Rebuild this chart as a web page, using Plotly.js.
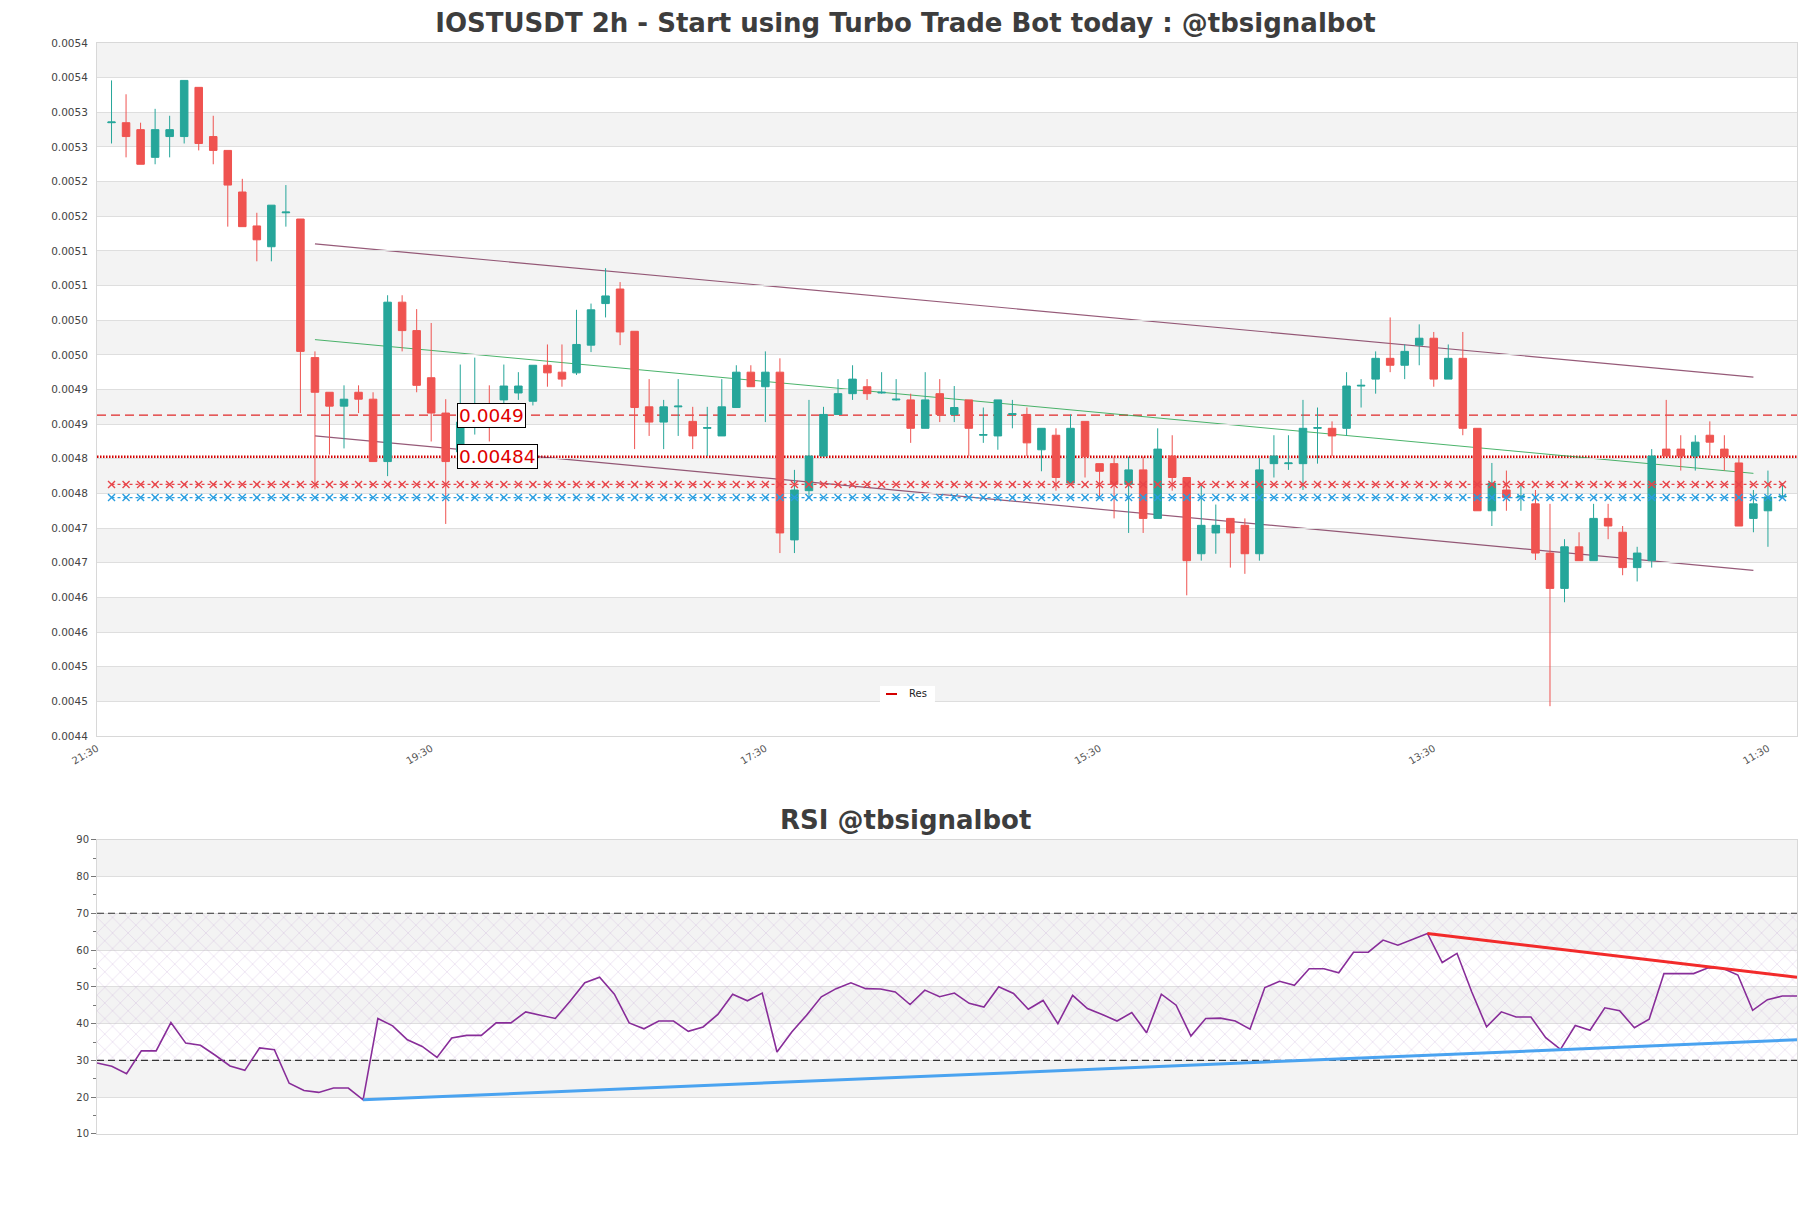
<!DOCTYPE html>
<html><head><meta charset="utf-8">
<script src="https://cdn.plot.ly/plotly-3.0.1.min.js"></script>
<style>html,body{margin:0;padding:0;background:#fff}#chart{width:1811px;height:1208px}</style>
</head><body><div id="chart"></div>
<script>
// ---- price candles (2h) ----
const openP = [0.005322,0.005322,0.005312,0.005272,0.005302,0.005302,0.005373,0.005302,0.005282,0.005222,
 0.005173,0.005143,0.005192,0.005183,0.004983,0.004933,0.004913,0.004933,0.004923,0.004833,
 0.005063,0.005022,0.004954,0.004903,0.004847,0.004893,0.004912,0.004922,0.004932,0.004920,
 0.004972,0.004962,0.004961,0.005001,0.005061,0.005082,0.005021,0.004912,0.004890,0.004912,
 0.004891,0.004881,0.004870,0.004911,0.004962,0.004941,0.004962,0.004720,0.004791,0.004841,
 0.004901,0.004931,0.004941,0.004932,0.004922,0.004922,0.004881,0.004931,0.004901,0.004922,
 0.004871,0.004870,0.004901,0.004901,0.004850,0.004871,0.004802,0.004891,0.004830,0.004830,
 0.004800,0.004821,0.004751,0.004841,0.004810,0.004700,0.004730,0.004751,0.004741,0.004700,
 0.004830,0.004830,0.004830,0.004881,0.004881,0.004881,0.004942,0.004952,0.004982,0.004972,
 0.005001,0.005011,0.004952,0.004982,0.004881,0.004762,0.004792,0.004782,0.004772,0.004701,
 0.004650,0.004710,0.004690,0.004751,0.004731,0.004680,0.004690,0.004851,0.004851,0.004841,
 0.004871,0.004851,0.004831,0.004751,0.004762,0.004782];
const highP = [0.005383,0.005363,0.005322,0.005342,0.005332,0.005383,0.005373,0.005332,0.005282,0.005241,
 0.005192,0.005203,0.005232,0.005183,0.004992,0.004933,0.004943,0.004943,0.004933,0.005073,
 0.005073,0.005053,0.005033,0.004923,0.004973,0.004983,0.004943,0.004973,0.004962,0.004972,
 0.005002,0.005002,0.005052,0.005061,0.005112,0.005092,0.005021,0.004952,0.004922,0.004952,
 0.004912,0.004912,0.004952,0.004972,0.004972,0.004992,0.004982,0.004821,0.004922,0.004912,
 0.004952,0.004972,0.004952,0.004962,0.004952,0.004931,0.004962,0.004952,0.004942,0.004922,
 0.004911,0.004922,0.004922,0.004911,0.004881,0.004881,0.004901,0.004891,0.004830,0.004840,
 0.004840,0.004840,0.004881,0.004871,0.004810,0.004800,0.004771,0.004751,0.004751,0.004838,
 0.004871,0.004871,0.004922,0.004911,0.004891,0.004962,0.004952,0.004992,0.005041,0.005002,
 0.005031,0.005020,0.005002,0.005020,0.004881,0.004831,0.004820,0.004802,0.004792,0.004772,
 0.004721,0.004731,0.004772,0.004772,0.004740,0.004710,0.004851,0.004922,0.004871,0.004871,
 0.004891,0.004871,0.004840,0.004792,0.004820,0.004802];
const lowP = [0.005292,0.005272,0.005262,0.005262,0.005272,0.005292,0.005282,0.005262,0.005172,0.005172,
 0.005122,0.005122,0.005172,0.004903,0.004793,0.004843,0.004852,0.004903,0.004833,0.004812,
 0.004992,0.004933,0.004862,0.004743,0.004823,0.004872,0.004862,0.004912,0.004922,0.004914,
 0.004941,0.004941,0.004958,0.004991,0.005041,0.005001,0.004851,0.004870,0.004851,0.004870,
 0.004851,0.004841,0.004870,0.004911,0.004941,0.004890,0.004701,0.004701,0.004782,0.004841,
 0.004901,0.004922,0.004922,0.004931,0.004921,0.004860,0.004881,0.004890,0.004890,0.004841,
 0.004860,0.004850,0.004881,0.004841,0.004819,0.004791,0.004802,0.004810,0.004780,0.004751,
 0.004730,0.004730,0.004751,0.004791,0.004640,0.004690,0.004700,0.004680,0.004671,0.004690,
 0.004810,0.004821,0.004792,0.004830,0.004841,0.004870,0.004911,0.004931,0.004962,0.004952,
 0.004972,0.004941,0.004952,0.004871,0.004762,0.004740,0.004762,0.004762,0.004691,0.004480,
 0.004630,0.004690,0.004690,0.004721,0.004669,0.004660,0.004680,0.004841,0.004820,0.004820,
 0.004841,0.004820,0.004740,0.004731,0.004710,0.004782];
const closeP = [0.005323,0.005302,0.005262,0.005312,0.005312,0.005383,0.005292,0.005282,0.005232,0.005172,
 0.005153,0.005203,0.005193,0.004992,0.004933,0.004913,0.004923,0.004923,0.004833,0.005063,
 0.005022,0.004943,0.004903,0.004833,0.004890,0.004898,0.004900,0.004942,0.004942,0.004972,
 0.004961,0.004952,0.005002,0.005052,0.005072,0.005020,0.004911,0.004890,0.004912,0.004913,
 0.004870,0.004882,0.004912,0.004962,0.004941,0.004962,0.004730,0.004792,0.004841,0.004901,
 0.004931,0.004952,0.004931,0.004933,0.004923,0.004881,0.004922,0.004901,0.004911,0.004881,
 0.004872,0.004922,0.004902,0.004860,0.004881,0.004810,0.004881,0.004840,0.004819,0.004800,
 0.004821,0.004751,0.004851,0.004810,0.004690,0.004741,0.004741,0.004730,0.004700,0.004821,
 0.004841,0.004831,0.004881,0.004882,0.004870,0.004942,0.004943,0.004982,0.004972,0.004992,
 0.005011,0.004952,0.004982,0.004881,0.004762,0.004802,0.004781,0.004783,0.004701,0.004650,
 0.004710,0.004690,0.004751,0.004740,0.004680,0.004701,0.004841,0.004841,0.004841,0.004861,
 0.004861,0.004840,0.004740,0.004772,0.004782,0.004783];

// ---- RSI ----
const rsiVals = [29.3,28.4,26.4,32.6,32.6,40.3,34.7,34.1,31.4,28.5,27.3,33.4,32.9,23.8,21.8,21.3,22.5,22.5,19.3,41.4,
 39.4,35.6,33.8,30.8,36.1,36.8,36.8,40.2,40.2,43.2,42.3,41.4,46.1,51.1,52.6,48.0,40.2,38.6,40.7,40.7,
 37.9,39.1,42.5,48.0,46.2,48.3,32.3,37.7,42.3,47.3,49.5,51.1,49.5,49.4,48.6,45.2,49.1,47.3,48.3,45.5,
 44.5,50.0,48.2,43.9,46.3,40.0,47.7,44.1,42.5,40.7,43.0,37.5,48.0,45.0,36.6,41.4,41.5,40.7,38.5,49.8,
 51.5,50.4,54.9,54.9,53.8,59.4,59.4,62.7,61.3,63.0,64.5,56.6,59.1,48.6,39.1,43.2,41.8,41.8,36.2,33.0,
 39.5,38.2,44.3,43.5,38.9,41.2,53.6,53.6,53.6,55.2,55.0,53.2,43.6,46.5,47.5,47.5];

// ---- axes ticks ----
const xTickPos = [-1, 22, 45, 68, 91, 114];
const xTickLabels = ['21:30','19:30','17:30','15:30','13:30','11:30'];
const yTickVals = [0.004437,0.004487,0.004537,0.004587,0.004637,0.004687,0.004737,0.004787,0.004837,0.004887,
 0.004937,0.004987,0.005037,0.005087,0.005137,0.005187,0.005237,0.005287,0.005337,0.005387,0.005437];
const yTickLabels = ['0.0044','0.0045','0.0045','0.0046','0.0046','0.0047','0.0047','0.0048','0.0048','0.0049',
 '0.0049','0.0050','0.0050','0.0051','0.0051','0.0052','0.0052','0.0053','0.0053','0.0054','0.0054'];
const rsiTicks = [10,20,30,40,50,60,70,80,90];
const rsiMinorTicks = [15,25,35,45,55,65,75,85];

// ---- levels & trend lines ----
const resLevel = 0.0049;      // dashed
const resLevel2 = 0.00484;    // dotted ("Res")
const redXLevel = 0.0048;
const blueXLevel = 0.004781;
const resLabels = ['0.0049', '0.00484'];
const channelX = [14, 113];
const channelUpper = [0.005147, 0.004955];
const channelLower = [0.004870, 0.004676];
const channelMid = [0.005009, 0.004816];
const rsiBands = [30, 70];
const rsiSupportX = [18, 115], rsiSupportY = [19.3, 35.6];
const rsiResistX = [90, 115], rsiResistY = [64.5, 52.6];

const candleIdx = closeP.map((_, k) => k);
const rsiIdx = rsiVals.map((_, k) => k);
const FONT = 'DejaVu Sans, Verdana, sans-serif';

const traces = [
  {type:'candlestick', x:candleIdx, open:openP, high:highP, low:lowP, close:closeP,
   xaxis:'x', yaxis:'y', whiskerwidth:0, showlegend:false, hoverinfo:'skip',
   increasing:{line:{color:'#26a69a', width:1}, fillcolor:'#26a69a'},
   decreasing:{line:{color:'#ef5350', width:1}, fillcolor:'#ef5350'}},
  {type:'scatter', mode:'lines+markers', x:candleIdx, y:candleIdx.map(() => redXLevel), xaxis:'x', yaxis:'y',
   line:{color:'#e8454a', width:1.2, dash:'3px,3px'}, marker:{symbol:'x-thin-open', size:7, line:{color:'#e8454a', width:1.4}},
   showlegend:false, hoverinfo:'skip'},
  {type:'scatter', mode:'lines+markers', x:candleIdx, y:candleIdx.map(() => blueXLevel), xaxis:'x', yaxis:'y',
   line:{color:'#2a9ee0', width:1.2, dash:'3px,3px'}, marker:{symbol:'x-thin-open', size:7, line:{color:'#2a9ee0', width:1.4}},
   showlegend:false, hoverinfo:'skip'},
  // RSI hatch band
  {type:'scatter', mode:'lines', x:[rsiIdx[0], rsiIdx[rsiIdx.length-1]], y:[rsiBands[1], rsiBands[1]],
   xaxis:'x2', yaxis:'y2', line:{width:0}, showlegend:false, hoverinfo:'skip'},
  {type:'scatter', mode:'lines', x:[rsiIdx[0], rsiIdx[rsiIdx.length-1]], y:[rsiBands[0], rsiBands[0]],
   xaxis:'x2', yaxis:'y2', line:{width:0}, fill:'tonexty', fillcolor:'rgba(0,0,0,0)',
   fillpattern:{shape:'x', fgcolor:'rgba(185,150,205,0.55)', size:11, solidity:0.08},
   showlegend:false, hoverinfo:'skip'},
  // RSI 70 / 30 dashed guides
  {type:'scatter', mode:'lines', x:[rsiIdx[0], rsiIdx[rsiIdx.length-1]], y:[rsiBands[1], rsiBands[1]],
   xaxis:'x2', yaxis:'y2', line:{color:'#333', width:1.2, dash:'7px,4px'}, showlegend:false, hoverinfo:'skip'},
  {type:'scatter', mode:'lines', x:[rsiIdx[0], rsiIdx[rsiIdx.length-1]], y:[rsiBands[0], rsiBands[0]],
   xaxis:'x2', yaxis:'y2', line:{color:'#333', width:1.2, dash:'7px,4px'}, showlegend:false, hoverinfo:'skip'},
  {type:'scatter', mode:'lines', x:rsiIdx, y:rsiVals, xaxis:'x2', yaxis:'y2',
   line:{color:'#882d99', width:1.6}, showlegend:false, hoverinfo:'skip'},
  {type:'scatter', mode:'lines', x:rsiSupportX, y:rsiSupportY, xaxis:'x2', yaxis:'y2',
   line:{color:'#4aa3f0', width:3}, showlegend:false, hoverinfo:'skip'},
  {type:'scatter', mode:'lines', x:rsiResistX, y:rsiResistY, xaxis:'x2', yaxis:'y2',
   line:{color:'#f22a2a', width:3}, showlegend:false, hoverinfo:'skip'}
];

const shapes = [];
for (let k = 1; k < yTickVals.length - 1; k += 2) {
  shapes.push({type:'rect', xref:'x domain', yref:'y', x0:0, x1:1, y0:yTickVals[k], y1:yTickVals[k+1],
    fillcolor:'#f3f3f3', line:{width:0}, layer:'below'});
}
for (let k = 1; k < rsiTicks.length - 1; k += 2) {
  shapes.push({type:'rect', xref:'x2 domain', yref:'y2', x0:0, x1:1, y0:rsiTicks[k], y1:rsiTicks[k+1],
    fillcolor:'#f3f3f3', line:{width:0}, layer:'below'});
}
shapes.push({type:'line', xref:'x domain', yref:'y', x0:0, x1:1, y0:resLevel, y1:resLevel,
  line:{color:'#e02828', width:1.3, dash:'9px,5px'}, layer:'below'});
shapes.push({type:'line', xref:'x domain', yref:'y', x0:0, x1:1, y0:resLevel2, y1:resLevel2,
  line:{color:'#d40000', width:2.6, dash:'1.5px,1.5px'}, layer:'below'});
shapes.push({type:'line', xref:'x', yref:'y', x0:channelX[0], x1:channelX[1], y0:channelUpper[0], y1:channelUpper[1],
  line:{color:'rgba(115,35,75,0.75)', width:1.2}, layer:'below'});
shapes.push({type:'line', xref:'x', yref:'y', x0:channelX[0], x1:channelX[1], y0:channelLower[0], y1:channelLower[1],
  line:{color:'rgba(115,35,75,0.75)', width:1.2}, layer:'below'});
shapes.push({type:'line', xref:'x', yref:'y', x0:channelX[0], x1:channelX[1], y0:channelMid[0], y1:channelMid[1],
  line:{color:'rgba(30,160,70,0.8)', width:1}, layer:'below'});
// legend box "Res"
shapes.push({type:'rect', xref:'paper', yref:'paper', x0:0.4606, x1:0.4929, y0:0.395, y1:0.4106,
  fillcolor:'#ffffff', line:{width:0}, layer:'above'});
shapes.push({type:'line', xref:'paper', yref:'paper', x0:0.4641, x1:0.4706, y0:0.4033, y1:0.4033,
  line:{color:'#d40000', width:2}, layer:'above'});

const annotations = [
  {xref:'x', yref:'y', x:23.75, y:resLevel, text:resLabels[0], showarrow:false, xanchor:'left', yanchor:'middle',
   font:{family:FONT, size:18.5, color:'#e00000'}, bgcolor:'#ffffff', bordercolor:'#000', borderwidth:1, borderpad:1},
  {xref:'x', yref:'y', x:23.75, y:resLevel2, text:resLabels[1], showarrow:false, xanchor:'left', yanchor:'middle',
   font:{family:FONT, size:18.5, color:'#e00000'}, bgcolor:'#ffffff', bordercolor:'#000', borderwidth:1, borderpad:1},
  {xref:'paper', yref:'paper', x:0.4756, y:0.2878, text:'<b>RSI @tbsignalbot</b>', showarrow:false,
   xanchor:'center', yanchor:'middle', font:{family:FONT, size:26, color:'#3d3d3d'}},
  {xref:'paper', yref:'paper', x:0.4765, y:0.4033, text:'Res', showarrow:false, xanchor:'left', yanchor:'middle',
   font:{family:FONT, size:10, color:'#222'}}
];

const layout = {
  width:1811, height:1208,
  margin:{l:97, r:14, t:43, b:74},
  paper_bgcolor:'#ffffff', plot_bgcolor:'#ffffff',
  font:{family:FONT, color:'#444'},
  title:{text:'<b>IOSTUSDT 2h - Start using Turbo Trade Bot today : @tbsignalbot</b>', x:0.5, xref:'container',
    y:1 - 23/1208, yref:'container', yanchor:'middle', xanchor:'center', font:{family:FONT, size:26, color:'#3d3d3d'}},
  showlegend:false,
  boxgap:0.26,
  xaxis:{domain:[0,1], anchor:'y', range:[-1,116], tickmode:'array', tickvals:xTickPos, ticktext:xTickLabels,
    tickangle:-30, tickfont:{size:10, color:'#555'}, showgrid:false, zeroline:false,
    showline:true, mirror:true, linecolor:'#d8d8d8', linewidth:1, ticks:'outside', ticklen:2, tickcolor:'rgba(0,0,0,0)',
    rangeslider:{visible:false}, fixedrange:true},
  yaxis:{domain:[0.3648,1], anchor:'x', range:[yTickVals[0], yTickVals[yTickVals.length-1]], tickmode:'array',
    tickvals:yTickVals, ticktext:yTickLabels, tickfont:{size:10.5, color:'#444'},
    showgrid:true, gridcolor:'#dedede', gridwidth:1, zeroline:false,
    showline:true, mirror:true, linecolor:'#d8d8d8', linewidth:1, ticks:'outside', ticklen:6, tickcolor:'rgba(0,0,0,0)'},
  xaxis2:{domain:[0,1], anchor:'y2', range:[rsiIdx[0], rsiIdx[rsiIdx.length-1]], showticklabels:false, showgrid:false,
    zeroline:false, showline:true, mirror:true, linecolor:'#d8d8d8', linewidth:1},
  yaxis2:{domain:[0,0.2698], anchor:'x2', range:[rsiTicks[0], rsiTicks[rsiTicks.length-1]], tickmode:'array',
    tickvals:rsiTicks, tickfont:{size:10, color:'#444'}, showgrid:true, gridcolor:'#dedede', zeroline:false,
    showline:true, mirror:true, linecolor:'#d8d8d8', linewidth:1, ticks:'outside', ticklen:5, tickcolor:'#777',
    minor:{tickvals:rsiMinorTicks, ticks:'outside', ticklen:3, tickcolor:'#777', showgrid:false}},
  shapes:shapes,
  annotations:annotations
};

Plotly.newPlot('chart', traces, layout, {staticPlot:true, displayModeBar:false});
</script>
</body></html>
